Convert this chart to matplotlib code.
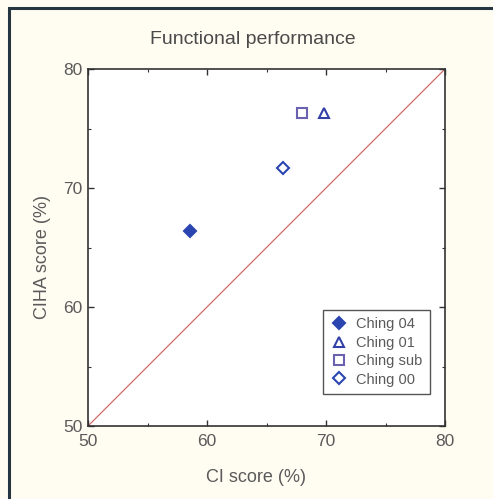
import matplotlib
matplotlib.use("Agg")
import matplotlib.pyplot as plt
from matplotlib.patches import Rectangle

plt.rcParams['font.family'] = ['Liberation Sans', 'DejaVu Sans']

# data
names = ["Ching 04", "Ching 01", "Ching sub", "Ching 00"]
ci_score = [58.6, 69.8, 68.0, 66.4]
ciha_score = [66.4, 76.3, 76.3, 71.7]
markers = ["D", "^", "s", "D"]
filled = [True, False, False, False]
colors = ["#2a45b0", "#3340a8", "#6a62b0", "#2a45b0"]

ticks = [50, 60, 70, 80]
minor_ticks = [55, 65, 75]

fig = plt.figure(figsize=(4.93, 4.99), dpi=100, facecolor="#fffdf2")

# outer frame, only left/top visible in the crop
fig.patches.append(Rectangle((9 / 493, -0.1), 1.2, 1.1 - 8 / 499,
                             transform=fig.transFigure, fill=False,
                             edgecolor="#263640", linewidth=2.2))

ax = fig.add_axes([88 / 493, 1 - 426 / 499, 357 / 493, 357 / 499])
ax.set_facecolor("white")

ax.plot([50, 80], [50, 80], color="#d46a6a", linewidth=0.9, zorder=1)

for n, x, y, m, f, c in zip(names, ci_score, ciha_score, markers, filled, colors):
    ax.plot(x, y, linestyle="none", marker=m, markersize=7 if m != "D" else 6.5,
            markerfacecolor=c if f else "none", markeredgecolor=c,
            markeredgewidth=1.5, label=n, zorder=3)

ax.set_xlim(50, 80)
ax.set_ylim(50, 80)
ax.set_xticks(ticks)
ax.set_yticks(ticks)
ax.set_xticks(minor_ticks, minor=True)
ax.set_yticks(minor_ticks, minor=True)
ax.tick_params(which="both", direction="in", top=True, right=True,
               color="#333333", labelsize=12.5, labelcolor="#5a5a5a")
ax.tick_params(which="major", length=4, width=1)
ax.tick_params(which="minor", length=2.5, width=0.8)
ax.tick_params(axis="x", pad=6)
ax.tick_params(axis="y", pad=4)
for s in ax.spines.values():
    s.set_color("#333333")
    s.set_linewidth(1.2)

ax.set_xlabel("CI score (%)", fontsize=13, color="#5a5a5a")
ax.set_ylabel("CIHA score (%)", fontsize=13, color="#5a5a5a")
ax.xaxis.set_label_coords(0.47, -0.12)
ax.yaxis.set_label_coords(-0.104, 0.473)
fig.text(253 / 493, 1 - 40 / 499, "Functional performance", fontsize=14,
         color="#4a4a4a", ha="center", va="center")

leg = ax.legend(loc="lower right", bbox_to_anchor=(0.958, 0.09),
                borderaxespad=0, fontsize=10.5, fancybox=False,
                edgecolor="#555555", framealpha=1, handletextpad=0.6,
                labelspacing=0.3, borderpad=0.5, handlelength=1.2)
leg.get_frame().set_linewidth(1.0)
for t in leg.get_texts():
    t.set_color("#5a5a5a")

fig.savefig("out.png", dpi=100, facecolor=fig.get_facecolor())
